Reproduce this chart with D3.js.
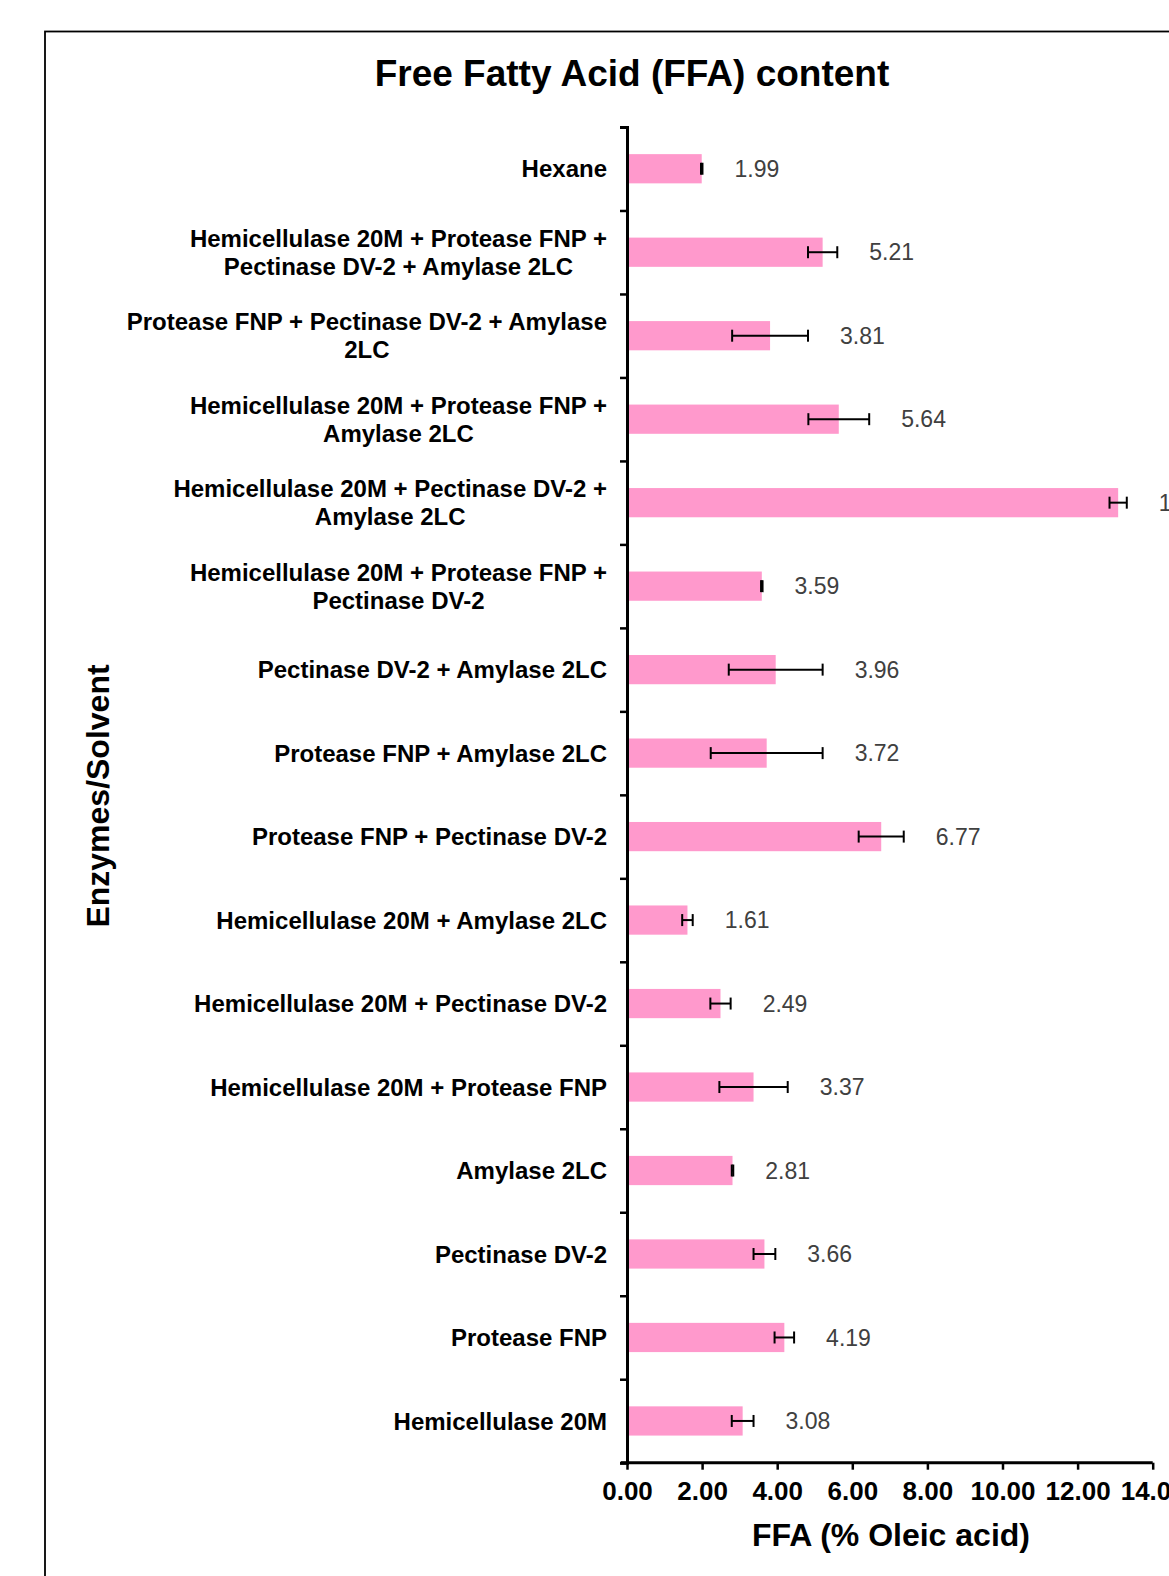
<!DOCTYPE html>
<html>
<head>
<meta charset="utf-8">
<script src="https://cdn.jsdelivr.net/npm/d3@7"></script>
<style>
  html, body { margin: 0; padding: 0; background: #ffffff; overflow: hidden; }
  svg { display: block; }
  text { font-family: "Liberation Sans", Arial, Helvetica, sans-serif; }
</style>
</head>
<body>
<svg id="chart" width="1169" height="1576"></svg>
<script>
// ---- data ----
const categories = [
  "Hexane",
  "Hemicellulase 20M + Protease FNP +\nPectinase DV-2 + Amylase 2LC",
  "Protease FNP + Pectinase DV-2 + Amylase\n2LC",
  "Hemicellulase 20M + Protease FNP +\nAmylase 2LC",
  "Hemicellulase 20M + Pectinase DV-2 +\nAmylase 2LC",
  "Hemicellulase 20M + Protease FNP +\nPectinase DV-2",
  "Pectinase DV-2 + Amylase 2LC",
  "Protease FNP + Amylase 2LC",
  "Protease FNP + Pectinase DV-2",
  "Hemicellulase 20M + Amylase 2LC",
  "Hemicellulase 20M + Pectinase DV-2",
  "Hemicellulase 20M + Protease FNP",
  "Amylase 2LC",
  "Pectinase DV-2",
  "Protease FNP",
  "Hemicellulase 20M"
];
const ffaValues = [1.99, 5.21, 3.81, 5.64, 13.08, 3.59, 3.96, 3.72, 6.77, 1.61, 2.49, 3.37, 2.81, 3.66, 4.19, 3.08];
const ffaErrors = [0.02, 0.39, 1.01, 0.81, 0.23, 0.02, 1.25, 1.49, 0.60, 0.14, 0.27, 0.91, 0.02, 0.29, 0.26, 0.29];
const xTickValues = [0, 2, 4, 6, 8, 10, 12, 14];
const chartTitle = "Free Fatty Acid (FFA) content";
const xAxisTitle = "FFA (% Oleic acid)";
const yAxisTitle = "Enzymes/Solvent";

const rows = categories.map((c, i) => ({ cat: c, value: ffaValues[i], err: ffaErrors[i] }));

// ---- layout ----
const plotLeft = 627, plotTop = 127, plotBottom = 1462.7;
const svg = d3.select("#chart");

// outer frame
svg.append("rect")
  .attr("x", 45).attr("y", 31.5)
  .attr("width", 2000).attr("height", 2000)
  .attr("fill", "none").attr("stroke", "#000").attr("stroke-width", 1.8);

const x = d3.scaleLinear().domain([0, 14]).range([plotLeft, plotLeft + 14 * 37.55]);
const y = d3.scaleBand().domain(categories).range([plotTop, plotBottom])
  .paddingInner(0.65).paddingOuter(0.325);
const yTicks = d3.scaleLinear().domain([0, categories.length]).range([plotTop, plotBottom]);

// bars
svg.append("g").selectAll("rect").data(rows).join("rect")
  .attr("x", x(0))
  .attr("y", d => y(d.cat))
  .attr("width", d => x(d.value) - x(0))
  .attr("height", y.bandwidth())
  .attr("fill", "#ff99cc");

// error bars
const eb = svg.append("g").attr("stroke", "#000").attr("stroke-width", 2).attr("fill", "none");
rows.forEach(d => {
  const cy = y(d.cat) + y.bandwidth() / 2;
  const x0 = x(d.value - d.err), x1 = x(d.value + d.err);
  eb.append("line").attr("x1", x0).attr("x2", x1).attr("y1", cy).attr("y2", cy);
  eb.append("line").attr("x1", x0).attr("x2", x0).attr("y1", cy - 6).attr("y2", cy + 6);
  eb.append("line").attr("x1", x1).attr("x2", x1).attr("y1", cy - 6).attr("y2", cy + 6);
});

// value labels
svg.append("g").selectAll("text").data(rows).join("text")
  .attr("x", d => x(d.value + d.err) + 32)
  .attr("y", d => y(d.cat) + y.bandwidth() / 2)
  .attr("dy", "0.35em")
  .attr("font-size", 23)
  .attr("fill", "#404040")
  .text(d => d.value.toFixed(2));

// y axis (ticks at category boundaries)
const yAxis = svg.append("g")
  .attr("transform", `translate(${plotLeft},0)`)
  .call(d3.axisLeft(yTicks).tickValues(d3.range(0, categories.length + 1)).tickSize(7).tickFormat(""));
yAxis.select(".domain").attr("stroke", "#000").attr("stroke-width", 3);
yAxis.selectAll(".tick line").attr("stroke", "#000").attr("stroke-width", 2.5);

// category labels
const labelRight = 607;
const labelG = svg.append("g");
rows.forEach(d => {
  const lines = d.cat.split("\n");
  const cy = y(d.cat) + y.bandwidth() / 2;
  const lh = 28;
  const t = labelG.append("text")
    .attr("font-size", 24).attr("font-weight", "bold").attr("fill", "#000")
    .attr("text-anchor", lines.length > 1 ? "middle" : "end");
  if (lines.length === 1) {
    t.attr("x", labelRight).attr("y", cy).attr("dy", "0.36em").text(lines[0]);
  } else {
    lines.forEach((ln, k) => {
      t.append("tspan").attr("x", 0).attr("y", cy + (k - (lines.length - 1) / 2) * lh)
        .attr("dy", "0.36em").text(ln);
    });
    const w = t.node().getBBox().width;
    t.attr("transform", `translate(${labelRight - w / 2},0)`);
  }
});

// x axis
const xAxis = svg.append("g")
  .attr("transform", `translate(0,${plotBottom})`)
  .call(d3.axisBottom(x).tickValues(xTickValues).tickSize(7).tickPadding(12).tickFormat(d3.format(".2f")));
xAxis.select(".domain").attr("stroke", "#000").attr("stroke-width", 3)
  .attr("d", `M${plotLeft - 6},0H${x(14)}`);
xAxis.selectAll(".tick line").attr("stroke", "#000").attr("stroke-width", 2.5);
xAxis.selectAll(".tick text")
  .attr("font-family", "\"Liberation Sans\", Arial, sans-serif")
  .attr("font-size", 26).attr("font-weight", "bold").attr("fill", "#000");

// titles
svg.append("text")
  .attr("x", 632).attr("y", 86)
  .attr("text-anchor", "middle")
  .attr("font-size", 37).attr("font-weight", "bold").attr("fill", "#000")
  .text(chartTitle);

svg.append("text")
  .attr("x", 891).attr("y", 1546)
  .attr("text-anchor", "middle")
  .attr("font-size", 32).attr("font-weight", "bold").attr("fill", "#000")
  .text(xAxisTitle);

svg.append("text")
  .attr("transform", "translate(109,796) rotate(-90)")
  .attr("text-anchor", "middle")
  .attr("font-size", 32).attr("font-weight", "bold").attr("fill", "#000")
  .text(yAxisTitle);
</script>
</body>
</html>
